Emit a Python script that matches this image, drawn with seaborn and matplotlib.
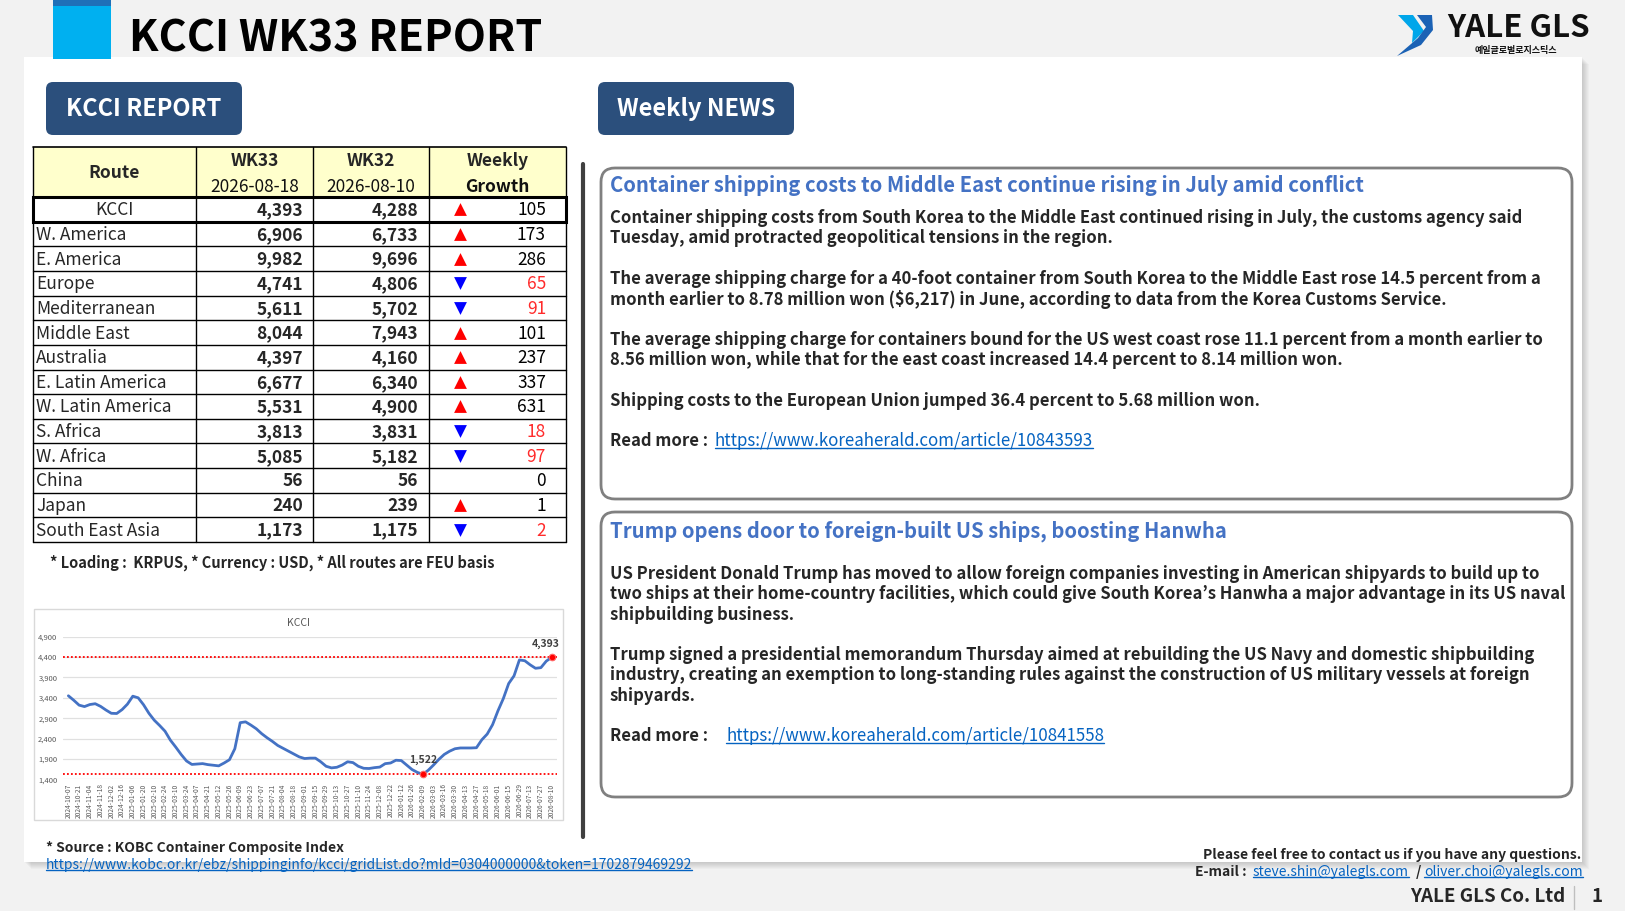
import matplotlib.pyplot as plt
import seaborn as sns
import pandas as pd
from matplotlib.patches import Rectangle, FancyBboxPatch, Polygon

# ---- table data ----
routes = ["KCCI", "W. America", "E. America", "Europe", "Mediterranean", "Middle East",
          "Australia", "E. Latin America", "W. Latin America", "S. Africa", "W. Africa",
          "China", "Japan", "South East Asia"]
wk33 = [4393, 6906, 9982, 4741, 5611, 8044, 4397, 6677, 5531, 3813, 5085, 56, 240, 1173]
wk32 = [4288, 6733, 9696, 4806, 5702, 7943, 4160, 6340, 4900, 3831, 5182, 56, 239, 1175]
wk33_date = "2026-08-18"
wk32_date = "2026-08-10"

# ---- KCCI weekly index ----
kcci_weekly = [3450, 3340, 3220, 3185, 3235, 3255, 3190, 3100, 3020, 3015,
               3110, 3245, 3440, 3400, 3230, 3020, 2850, 2720, 2580, 2360,
               2190, 2010, 1850, 1765, 1775, 1785, 1760, 1745, 1730, 1800,
               1880, 2150, 2790, 2810, 2730, 2640, 2520, 2420, 2330, 2230,
               2160, 2090, 2020, 1950, 1910, 1920, 1920, 1830, 1720, 1680,
               1695, 1750, 1830, 1810, 1720, 1670, 1665, 1686, 1700, 1784,
               1800, 1868, 1860, 1750, 1640, 1570, 1522, 1620, 1750, 1890,
               2010, 2090, 2150, 2169, 2169, 2169, 2175, 2370, 2510, 2740,
               3080, 3380, 3750, 3940, 4330, 4310, 4210, 4125, 4140, 4300,
               4393]
kcci_tick_labels = ["2024-10-07", "2024-10-21", "2024-11-04", "2024-11-18", "2024-12-02",
                    "2024-12-16", "2025-01-06", "2025-01-20", "2025-02-10", "2025-02-24",
                    "2025-03-10", "2025-03-24", "2025-04-07", "2025-04-21", "2025-05-12",
                    "2025-05-26", "2025-06-09", "2025-06-23", "2025-07-07", "2025-07-21",
                    "2025-08-04", "2025-08-18", "2025-09-01", "2025-09-15", "2025-09-29",
                    "2025-10-13", "2025-10-27", "2025-11-10", "2025-11-24", "2025-12-08",
                    "2025-12-22", "2026-01-12", "2026-01-26", "2026-02-09", "2026-03-03",
                    "2026-03-16", "2026-03-30", "2026-04-13", "2026-04-27", "2026-05-18",
                    "2026-06-01", "2026-06-15", "2026-06-29", "2026-07-13", "2026-07-27",
                    "2026-08-10"]

# ---- news ----
news1_title = "Container shipping costs to Middle East continue rising in July amid conflict"
news1_lines = [
    "Container shipping costs from South Korea to the Middle East continued rising in July, the customs agency said",
    "Tuesday, amid protracted geopolitical tensions in the region.",
    "",
    "The average shipping charge for a 40-foot container from South Korea to the Middle East rose 14.5 percent from a",
    "month earlier to 8.78 million won ($6,217) in June, according to data from the Korea Customs Service.",
    "",
    "The average shipping charge for containers bound for the US west coast rose 11.1 percent from a month earlier to",
    "8.56 million won, while that for the east coast increased 14.4 percent to 8.14 million won.",
    "",
    "Shipping costs to the European Union jumped 36.4 percent to 5.68 million won.",
]
news1_link = "https://www.koreaherald.com/article/10843593"
news2_title = "Trump opens door to foreign-built US ships, boosting Hanwha"
news2_lines = [
    "US President Donald Trump has moved to allow foreign companies investing in American shipyards to build up to",
    "two ships at their home-country facilities, which could give South Korea\u2019s Hanwha a major advantage in its US naval",
    "shipbuilding business.",
    "",
    "Trump signed a presidential memorandum Thursday aimed at rebuilding the US Navy and domestic shipbuilding",
    "industry, creating an exemption to long-standing rules against the construction of US military vessels at foreign",
    "shipyards.",
]
news2_link = "https://www.koreaherald.com/article/10841558"
source_link = "https://www.kobc.or.kr/ebz/shippinginfo/kcci/gridList.do?mId=0304000000&token=1702879469292"

NAVY = "#2b4f7c"
LINK = "#0563c1"
TITLE_BLUE = "#4472c4"

sns.set_theme(style="white")
plt.rcParams["font.family"] = ["Noto Sans CJK KR", "DejaVu Sans"]

W, H = 1625, 911
fig = plt.figure(figsize=(W / 100, H / 100), dpi=100, facecolor="#f2f2f2")
bg = fig.add_axes([0, 0, 1, 1])
bg.set_xlim(0, W)
bg.set_ylim(H, 0)
bg.axis("off")
renderer = fig.canvas.get_renderer()
inv = bg.transData.inverted()


def underline(t, color):
    bb = t.get_window_extent(renderer)
    (x0, y0), (x1, y1) = inv.transform([[bb.x0, bb.y0], [bb.x1, bb.y1]])
    yl = max(y0, y1) - 2.5
    bg.plot([x0, x1], [yl, yl], color=color, lw=1)


# white page with soft shadow
for k in range(1, 8):
    bg.add_patch(Rectangle((24 + k, 57 + k), 1558, 805, color="black", alpha=0.025, lw=0))
bg.add_patch(Rectangle((24, 57), 1558, 805, color="white", lw=0))

# title
bg.add_patch(Rectangle((53, 0), 58, 59, color="#00b0f0", lw=0))
bg.add_patch(Rectangle((53, 0), 58, 6, color="#1f70b8", lw=0))
bg.text(129, 38, "KCCI WK33 REPORT", fontsize=31, fontweight="bold", va="center", color="black")

# logo
bg.add_patch(Polygon([(1398, 15), (1413, 15), (1424, 31), (1412, 43), (1413, 31)], color="#00a6ea", lw=0))
bg.add_patch(Polygon([(1417, 15), (1432, 15), (1433, 30), (1421, 45), (1397, 56), (1418, 38), (1426, 27)],
                     color="#1b62b5", lw=0))
bg.text(1447, 28, "YALE GLS", fontsize=22.5, fontweight="heavy", va="center", color="#111111")
bg.text(1475, 50, "예일글로벌로지스틱스", fontsize=6.5, fontweight="bold", va="center", color="#111111")

# section buttons
for x0, label in [(46, "KCCI REPORT"), (598, "Weekly NEWS")]:
    bg.add_patch(FancyBboxPatch((x0, 82), 196, 53, boxstyle="round,pad=0,rounding_size=7",
                                fc=NAVY, ec="none"))
    bg.text(x0 + 98, 109, label, fontsize=17, fontweight="bold", color="white",
            ha="center", va="center")

# ---- table ----
col_x = [33, 196, 313, 429, 566]
head_top, head_bot, tab_bot = 147, 197, 542
row_h = (tab_bot - head_bot) / len(routes)
bg.add_patch(Rectangle((col_x[0], head_top), col_x[-1] - col_x[0], head_bot - head_top,
                       fc="#ffffcc", ec="none"))
for x in col_x:
    bg.plot([x, x], [head_top, tab_bot], color="black", lw=1)
bg.plot([col_x[0], col_x[-1]], [head_top, head_top], color="black", lw=1.2)
for i in range(len(routes) + 1):
    y = head_bot + i * row_h
    bg.plot([col_x[0], col_x[-1]], [y, y], color="black", lw=1)
bg.add_patch(Rectangle((col_x[0], head_bot), col_x[-1] - col_x[0], row_h,
                       fill=False, ec="black", lw=2.2, zorder=5))

hm = (head_top + head_bot) / 2
bg.text((col_x[0] + col_x[1]) / 2, hm + 1, "Route", fontsize=12.5, fontweight="bold", ha="center", va="center")
for c, (wk, d) in enumerate([("WK33", wk33_date), ("WK32", wk32_date), ("Weekly", "Growth")]):
    cx = (col_x[c + 1] + col_x[c + 2]) / 2
    bg.text(cx, hm - 11, wk, fontsize=12.5, fontweight="bold", ha="center", va="center")
    bg.text(cx, hm + 15, d, fontsize=12.5, fontweight="bold" if c == 2 else "normal",
            ha="center", va="center", color="#111111")

for i, r in enumerate(routes):
    yc = head_bot + (i + 0.5) * row_h + 1
    if i == 0:
        bg.text((col_x[0] + col_x[1]) / 2, yc, r, fontsize=12.5, ha="center", va="center")
    else:
        bg.text(col_x[0] + 3, yc, r, fontsize=12.5, ha="left", va="center")
    bg.text(col_x[2] - 10, yc, f"{wk33[i]:,}", fontsize=12.5, fontweight="bold", ha="right", va="center")
    bg.text(col_x[3] - 11, yc, f"{wk32[i]:,}", fontsize=12.5, fontweight="bold", ha="right", va="center")
    g = wk33[i] - wk32[i]
    if g > 0:
        bg.scatter([460], [yc - 1], marker="^", s=85, color="red", lw=0, zorder=6)
    elif g < 0:
        bg.scatter([460], [yc - 1], marker="v", s=85, color="#0000ff", lw=0, zorder=6)
    bg.text(col_x[4] - 20, yc, f"{abs(g):,}", fontsize=12.5, ha="right", va="center",
            color="#ff2b2b" if g < 0 else "black")

bg.text(50, 563, "* Loading :  KRPUS, * Currency : USD, * All routes are FEU basis",
        fontsize=10.5, fontweight="bold", va="center")

# ---- KCCI line chart ----
bg.add_patch(Rectangle((34, 609), 529, 211, fill=False, ec="#d9d9d9", lw=1))
bg.text(298, 623, "KCCI", fontsize=7.5, color="#595959", ha="center", va="center")

df = pd.DataFrame({"week": range(len(kcci_weekly)), "kcci": kcci_weekly})
ax = fig.add_axes([63 / W, (H - 779.3) / H, 494 / W, 142.6 / H])
sns.lineplot(data=df, x="week", y="kcci", ax=ax, color="#4472c4", lw=2)
ax.set_xlim(-1, len(kcci_weekly))
ax.set_ylim(1400, 4900)
yt = list(range(1400, 4901, 500))
ax.set_yticks(yt)
ax.set_yticklabels([f"{v:,}" for v in yt])
ax.set_xticks(list(range(0, len(kcci_weekly), 2)))
ax.set_xticklabels(kcci_tick_labels, rotation=90)
ax.tick_params(axis="y", length=0, labelsize=5.5, labelcolor="#595959", pad=4)
ax.tick_params(axis="x", length=0, labelsize=4.8, labelcolor="#595959", pad=3)
ax.yaxis.grid(True, color="#e0e0e0", lw=0.9)
ax.set_axisbelow(True)
for s in ax.spines.values():
    s.set_visible(False)
ax.set_xlabel("")
ax.set_ylabel("")
ax.patch.set_alpha(0)

i_max = max(range(len(kcci_weekly)), key=lambda i: kcci_weekly[i])
i_min = min(range(len(kcci_weekly)), key=lambda i: kcci_weekly[i])
for i in (i_max, i_min):
    v = kcci_weekly[i]
    ax.axhline(v, color="red", ls=(0, (1, 1.2)), lw=1.3, zorder=1)
    ax.scatter([i], [v], color="red", s=22, zorder=5, ec="#ff6666", lw=0.8)
    ax.annotate(f"{v:,}", (i, v), xytext=(-4 if i == i_max else 0, 8), textcoords="offset points",
                ha="center", fontsize=7.5, fontweight="bold", color="#404040")

# divider
bg.plot([583, 583], [164, 837], color="#404040", lw=3)

# ---- news boxes ----
def news_box(top, bottom, title, title_y, lines, first_y, link, link_x):
    bg.add_patch(FancyBboxPatch((601, top), 971, bottom - top, boxstyle="round,pad=0,rounding_size=14",
                                fc="white", ec="#808080", lw=2))
    bg.text(610, title_y, title, fontsize=14.6, fontweight="semibold", color=TITLE_BLUE, va="center")
    step = 20.3
    for k, ln in enumerate(lines):
        if ln:
            bg.text(610, first_y + k * step, ln, fontsize=12, fontweight="bold", va="center")
    yr = first_y + (len(lines) + 1) * step
    bg.text(610, yr, "Read more :", fontsize=12, fontweight="bold", va="center")
    t = bg.text(link_x, yr, link, fontsize=12.2, color=LINK, va="center")
    underline(t, LINK)


news_box(168, 499, news1_title, 185, news1_lines, 218, news1_link, 715)
news_box(512, 797, news2_title, 531, news2_lines, 574, news2_link, 726)

# ---- footer ----
bg.text(46, 848, "* Source : KOBC Container Composite Index", fontsize=10, fontweight="bold", va="center")
t = bg.text(46, 865, source_link, fontsize=10, color=LINK, va="center")
underline(t, LINK)

bg.text(1581, 855, "Please feel free to contact us if you have any questions.", fontsize=10,
        fontweight="bold", ha="right", va="center")
bg.text(1247, 872, "E-mail :", fontsize=10, fontweight="bold", ha="right", va="center")
t = bg.text(1253, 872, "steve.shin@yalegls.com", fontsize=10, color=LINK, va="center")
underline(t, LINK)
bg.text(1418, 872, "/", fontsize=10, fontweight="bold", ha="center", va="center")
t = bg.text(1583, 872, "oliver.choi@yalegls.com", fontsize=10, color=LINK, ha="right", va="center")
underline(t, LINK)

bg.text(1565, 897, "YALE GLS Co. Ltd", fontsize=13.5, fontweight="bold", ha="right", va="center")
bg.plot([1574, 1574], [886, 909], color="#bfbfbf", lw=1)
bg.text(1597, 897, "1", fontsize=13.5, fontweight="bold", ha="center", va="center")

fig.savefig("out.png", dpi=100, facecolor=fig.get_facecolor())
